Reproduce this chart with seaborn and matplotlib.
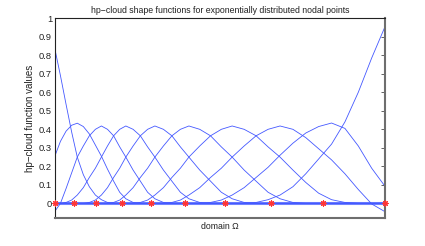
import matplotlib
matplotlib.use('Agg')
import matplotlib.pyplot as plt
import numpy as np
import pandas as pd
import seaborn as sns

# sample positions along the domain
x_grid = [0.0, 0.017, 0.034, 0.051, 0.068, 0.0863, 0.1045, 0.1228, 0.141,
          0.1595, 0.178, 0.1965, 0.215, 0.237, 0.259, 0.281, 0.303, 0.3288,
          0.3545, 0.3803, 0.406, 0.4388, 0.4715, 0.5043, 0.537, 0.5733,
          0.6095, 0.6458, 0.682, 0.721, 0.76, 0.799, 0.838, 0.8785, 0.919,
          0.9595, 1.0]

# shape function values, one list per nodal point
phi_1 = [0.835, 0.69, 0.535, 0.385, 0.25, 0.155, 0.09, 0.045, 0.02, 0.005] + [0] * 27
phi_2 = [0.255, 0.335, 0.39, 0.422, 0.433, 0.415, 0.375, 0.315, 0.255, 0.185,
         0.12, 0.06, 0.025, 0.005] + [0] * 23
phi_3 = [-0.043, 0.0, 0.08, 0.165, 0.25, 0.31, 0.365, 0.40, 0.418, 0.40,
         0.365, 0.305, 0.25, 0.18, 0.12, 0.06, 0.025, 0.005] + [0] * 19
phi_4 = [0, 0, 0.005, 0.018, 0.045, 0.085, 0.14, 0.19, 0.25, 0.31, 0.365, 0.40,
         0.418, 0.40, 0.365, 0.305, 0.25, 0.18, 0.12, 0.06, 0.025, 0.005] + [0] * 15
phi_5 = [0] * 6 + [0.005, 0.018, 0.045, 0.085, 0.14, 0.19, 0.25, 0.31, 0.365, 0.40,
                   0.418, 0.40, 0.365, 0.305, 0.25, 0.18, 0.12, 0.06, 0.025, 0.005] + [0] * 11
phi_6 = [0] * 10 + [0.005, 0.018, 0.045, 0.085, 0.14, 0.19, 0.25, 0.31, 0.365, 0.40,
                    0.418, 0.40, 0.365, 0.305, 0.25, 0.18, 0.12, 0.06, 0.025, 0.005] + [0] * 7
phi_7 = [0] * 14 + [0.005, 0.018, 0.045, 0.085, 0.14, 0.19, 0.25, 0.31, 0.365, 0.40,
                    0.418, 0.40, 0.365, 0.305, 0.25, 0.18, 0.113, 0.055, 0.02, 0.005] + [0] * 3
phi_8 = [0] * 18 + [0.005, 0.018, 0.045, 0.085, 0.14, 0.19, 0.25, 0.31, 0.365, 0.40,
                    0.418, 0.40, 0.355, 0.295, 0.235, 0.16, 0.075, -0.003, -0.045]
phi_9 = [0] * 22 + [0.005, 0.018, 0.045, 0.085, 0.14, 0.195, 0.26, 0.325, 0.38, 0.415,
                    0.434, 0.405, 0.31, 0.19, 0.092]
phi_10 = [0] * 26 + [0.005, 0.02, 0.045, 0.09, 0.16, 0.24, 0.32, 0.44, 0.6, 0.785, 0.955]

# exponentially distributed nodal points
nodes = [0.0, 0.0586, 0.1253, 0.203, 0.291, 0.395, 0.515, 0.654, 0.813, 1.0]

curves = [phi_1, phi_2, phi_3, phi_4, phi_5, phi_6, phi_7, phi_8, phi_9, phi_10]
rows = []
for k, ys in enumerate(curves):
    for xv, yv in zip(x_grid, ys):
        rows.append({'x': xv, 'value': yv, 'node': k})
df = pd.DataFrame(rows)
df_nodes = pd.DataFrame({'x': nodes, 'value': [0.0] * len(nodes)})

sns.set_theme(style='white')
plt.rcParams['font.family'] = ['Liberation Sans', 'DejaVu Sans']

fig, ax = plt.subplots(figsize=(4.25, 2.46), dpi=100)
fig.subplots_adjust(left=0.129, right=0.906, bottom=0.113, top=0.926)

ax.axhline(0, color='#7183ff', lw=2.2, zorder=1)
sns.lineplot(data=df, x='x', y='value', units='node', estimator=None,
             color='#4458ff', lw=0.6, ax=ax, zorder=2)
sns.scatterplot(data=df_nodes, x='x', y='value', marker=(8, 2, 0), color='#ff3535',
                s=14, linewidth=0.8, ax=ax, zorder=3, clip_on=False)

ax.set_xlim(0, 1)
ax.set_ylim(-0.08, 1)
ax.set_xticks([])
ax.set_yticks(np.arange(0, 1.01, 0.1))
ax.set_yticklabels(['0', '0.1', '0.2', '0.3', '0.4', '0.5', '0.6', '0.7', '0.8', '0.9', '1'])
ax.tick_params(axis='y', direction='in', length=3, width=0.5, right=True,
               labelsize=6.7, pad=2, colors='#222222')

for side in ['left', 'top']:
    ax.spines[side].set_color('#222222')
    ax.spines[side].set_linewidth(0.8)
for side in ['right', 'bottom']:
    ax.spines[side].set_color('#6e6e6e')
    ax.spines[side].set_linewidth(1.5)

ax.set_title('hp\u2212cloud shape functions for exponentially distributed nodal points',
             fontsize=6.3, pad=4, color='#222222')
ax.set_xlabel('domain \u03a9', fontsize=6.3, labelpad=3, color='#222222')
ax.set_ylabel('hp\u2212cloud function values', fontsize=7.0, labelpad=3, color='#222222')

fig.savefig('out.png', dpi=100)
